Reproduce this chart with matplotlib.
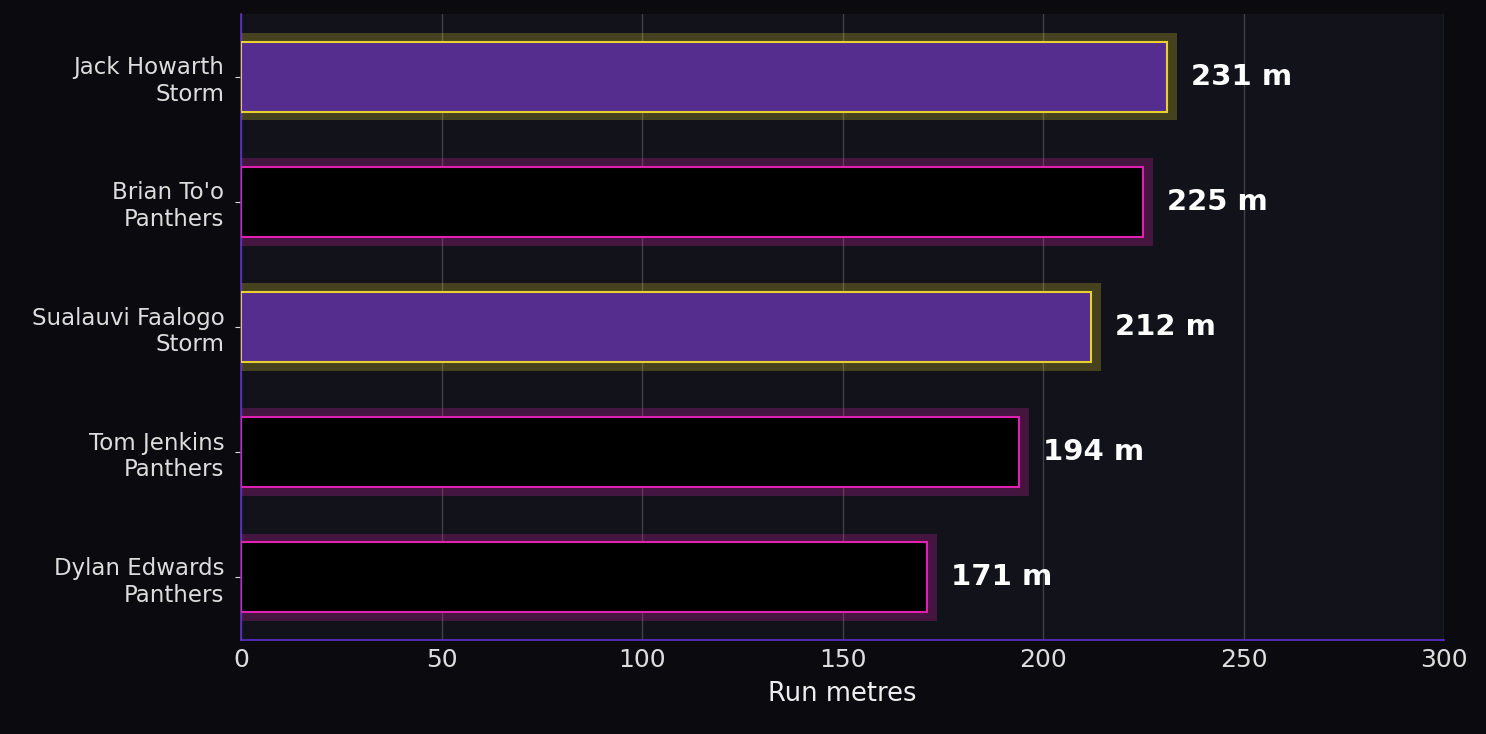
import matplotlib
matplotlib.use("Agg")
import matplotlib.pyplot as plt

players = ["Jack Howarth\nStorm", "Brian To'o\nPanthers", "Sualauvi Faalogo\nStorm", "Tom Jenkins\nPanthers", "Dylan Edwards\nPanthers"]
teams = ["Storm", "Panthers", "Storm", "Panthers", "Panthers"]
metres = [231, 225, 212, 194, 171]

fig = plt.figure(figsize=(14.86, 7.34), dpi=100, facecolor="#0b0b0f")
ax = fig.add_axes([241/1486, 1-640/734, (1444-241)/1486, (640-14)/734])
ax.set_facecolor("#11121a")

ys = list(range(len(players)))[::-1]
for y, v, t in zip(ys, metres, teams):
    if t == "Storm":
        face, edge, glow = "#552d8f", "#e8d030", "#e8d030"
    else:
        face, edge, glow = "#000000", "#e020b0", "#e020b0"
    ax.barh(y, v + 2.5, height=0.7, color=glow, alpha=0.25, zorder=2, linewidth=0)
    ax.barh(y, v, height=0.56, color=face, edgecolor=edge, linewidth=1.5, zorder=3)
    ax.text(v + 6, y, f"{v} m", va="center", ha="left", color="white",
            fontsize=21, fontweight="bold", zorder=4)

ax.set_yticks(ys)
ax.set_yticklabels(players, color="#dddddd", fontsize=16.5)
ax.set_xlim(0, 300)
ax.set_ylim(-0.5, 4.5)
ax.set_xticks([0, 50, 100, 150, 200, 250, 300])
ax.tick_params(axis="x", colors="#dddddd", labelsize=18, length=0, pad=6)
ax.tick_params(axis="y", colors="#dddddd", length=4, pad=8)
ax.set_xlabel("Run metres", color="#eeeeee", fontsize=18.5, labelpad=6)
ax.grid(axis="x", color="#888888", alpha=0.4, linewidth=1, zorder=0)
ax.set_axisbelow(True)
for s in ["top", "right"]:
    ax.spines[s].set_visible(False)
for s in ["left", "bottom"]:
    ax.spines[s].set_color("#6030d0")
    ax.spines[s].set_linewidth(1.2)

fig.savefig("out.png", dpi=100, facecolor=fig.get_facecolor())
